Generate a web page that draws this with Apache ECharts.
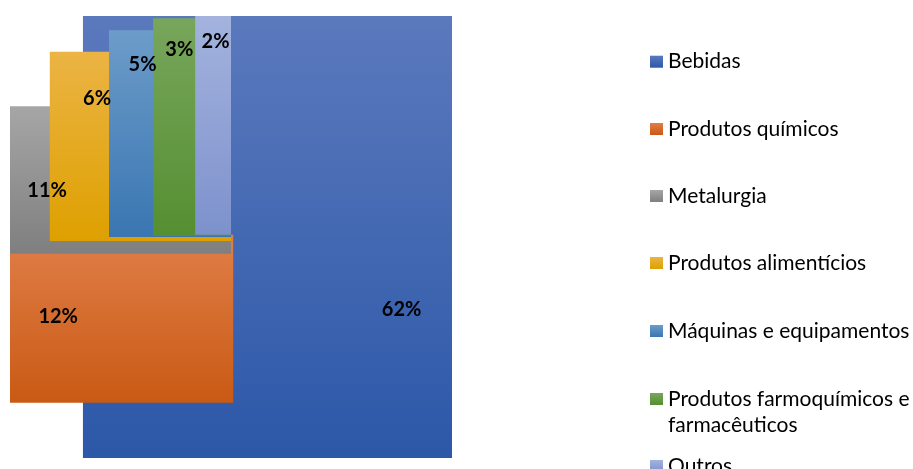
<!DOCTYPE html>
<html>
<head>
<meta charset="utf-8">
<script src="https://cdn.jsdelivr.net/npm/echarts@6/dist/echarts.min.js"></script>
<style>
  html, body { margin: 0; padding: 0; background: #ffffff; }
  #chart { width: 913px; height: 469px; }
</style>
</head>
<body>
<div id="chart"></div>
<script>
// Industry sectors and their shares (%)
var categories = [
  'Bebidas',
  'Produtos químicos',
  'Metalurgia',
  'Produtos alimentícios',
  'Máquinas e equipamentos',
  'Produtos farmoquímicos e farmacêuticos',
  'Outros'
];
var shares = [62, 12, 11, 6, 5, 3, 2];

// Block extents on the 0–100 plot scale (left, right, bottom, top)
var blockLeft   = [16.5,  0.0,  0.0,  9.0, 22.4, 32.4, 41.9];
var blockRight  = [100,  50.5, 50.0, 50.0, 50.0, 50.0, 50.0];
var blockBottom = [0.0,  12.5, 46.2, 49.1, 50.0, 50.2, 50.5];
var blockTop    = [100,  50.5, 79.6, 91.9, 96.8, 99.5, 100];

// Where each share label sits on the same scale
var labelX = [88.6, 10.9,  8.4, 19.7, 30.0, 38.3, 46.5];
var labelY = [33.5, 31.9, 60.5, 81.3, 89.1, 92.5, 94.2];

// Gradient fills, light at the top and darker at the bottom
var colorTop    = ['#5b79bd', '#e07e48', '#a6a6a6', '#ebb444', '#6c9cc9', '#78a65c', '#a3b3de'];
var colorBottom = ['#2c58a8', '#c95a14', '#7f7f7f', '#dea000', '#3a76b2', '#558f31', '#7d91cc'];

// Legend rows (vertical centres of the marker, px)
var legendRowY = [61.7, 129, 196, 263, 331, 399, 466];

var FONT = 'Lato, "Open Sans", sans-serif';
var LINE = 26;

function gradient(i) {
  return new echarts.graphic.LinearGradient(0, 0, 0, 1, [
    { offset: 0, color: colorTop[i] },
    { offset: 1, color: colorBottom[i] }
  ]);
}

function renderBlock(params, api) {
  var tl = api.coord([api.value(0), api.value(3)]);
  var br = api.coord([api.value(1), api.value(2)]);
  return {
    type: 'rect',
    shape: { x: tl[0], y: tl[1], width: br[0] - tl[0], height: br[1] - tl[1] },
    style: api.style()
  };
}

function renderLabel(params, api) {
  var p = api.coord([api.value(0), api.value(1)]);
  return {
    type: 'text',
    x: p[0],
    y: p[1],
    style: {
      text: api.value(2) + '%',
      fill: '#000000',
      font: 'bold 20px ' + FONT,
      align: 'center',
      verticalAlign: 'middle'
    }
  };
}

var series = categories.map(function (name, i) {
  return {
    type: 'custom',
    name: name,
    coordinateSystem: 'cartesian2d',
    renderItem: renderBlock,
    itemStyle: { color: gradient(i) },
    encode: { x: [0, 1], y: [2, 3] },
    data: [[blockLeft[i], blockRight[i], blockBottom[i], blockTop[i]]],
    z: 2 + i,
    silent: true
  };
});

// Share labels drawn above every block
series.push({
  type: 'custom',
  name: 'labels',
  coordinateSystem: 'cartesian2d',
  renderItem: renderLabel,
  encode: { x: 0, y: 1 },
  data: shares.map(function (v, i) { return [labelX[i], labelY[i], v]; }),
  z: 20,
  silent: true
});

// One legend block per sector; the long name wraps onto a second line
// while its marker stays level with the first line.
var legends = categories.map(function (name, i) {
  var wrapped = name === 'Produtos farmoquímicos e farmacêuticos';
  var lines = wrapped ? 3 : 1;
  return {
    data: [name],
    left: 650,
    top: legendRowY[i] - lines * LINE / 2,
    padding: 0,
    icon: 'rect',
    itemWidth: 13,
    itemHeight: 12,
    itemGap: 0,
    selectedMode: false,
    formatter: function (n) {
      return wrapped ? '\nProdutos farmoquímicos e\nfarmacêuticos' : n;
    },
    textStyle: {
      fontFamily: FONT,
      fontSize: 21,
      color: '#000000',
      lineHeight: LINE
    }
  };
});

var chart = echarts.init(document.getElementById('chart'), null, { renderer: 'canvas' });
chart.setOption({
  animation: false,
  backgroundColor: '#ffffff',
  grid: { left: 10, top: 16, width: 442, height: 442 },
  xAxis: { type: 'value', min: 0, max: 100, show: false },
  yAxis: { type: 'value', min: 0, max: 100, show: false },
  legend: legends,
  series: series
});
</script>
</body>
</html>
